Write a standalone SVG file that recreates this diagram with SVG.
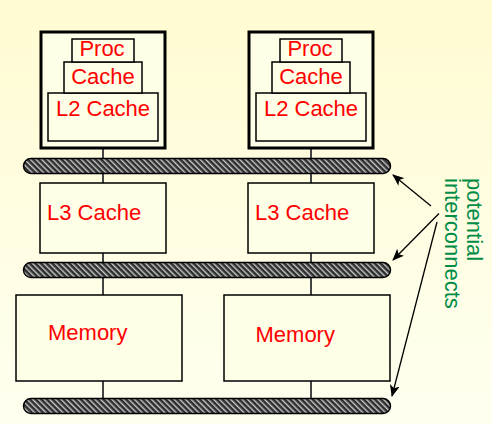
<svg xmlns="http://www.w3.org/2000/svg" width="492" height="424" viewBox="0 0 492 424">
  <defs>
    <linearGradient id="bg" x1="0" y1="0" x2="0" y2="1">
      <stop offset="0" stop-color="#fffbd2"/>
      <stop offset="1" stop-color="#fffff0"/>
    </linearGradient>
    <pattern id="hatch" patternUnits="userSpaceOnUse" width="4" height="4" patternTransform="rotate(-45)">
      <rect width="4" height="4" fill="#2e2e2e"/>
      <rect x="0" y="0" width="1.4" height="4" fill="#c8c8c8"/>
    </pattern>
    <marker id="ah" markerWidth="12" markerHeight="10" refX="11" refY="5" orient="auto" markerUnits="userSpaceOnUse">
      <path d="M0,0 L12,5 L0,10 L3,5 Z" fill="#000"/>
    </marker>
  </defs>
  <style>
    .box { fill: #fffee6; stroke: #000; stroke-width: 1.5; }
    .outer { fill: #fffee6; stroke: #000; stroke-width: 3; }
    .bus { fill: url(#hatch); stroke: #000; stroke-width: 1.5; }
    .lbl { font-family: "Liberation Sans", Arial, sans-serif; font-size: 22px; fill: #ff0000; }
    .c { text-anchor: middle; }
    .vline { stroke: #444; stroke-width: 2; }
    .arrow { stroke: #000; stroke-width: 1.3; fill: none; marker-end: url(#ah); }
    .note { font-family: "Liberation Sans", Arial, sans-serif; font-size: 22px; fill: #008c46; }
  </style>
  <rect width="492" height="424" fill="url(#bg)"/>

  <g id="connectors">
    <line class="vline" x1="103" y1="149" x2="103" y2="398"/>
    <line class="vline" x1="311" y1="149" x2="311" y2="398"/>
    <line class="arrow" x1="431" y1="206" x2="393" y2="175"/>
    <line class="arrow" x1="439" y1="213.5" x2="393" y2="260"/>
    <line class="arrow" x1="437" y1="222" x2="392" y2="396"/>
  </g>

  <g id="node-proc1">
    <rect class="outer" x="41" y="32" width="124" height="116"/>
    <rect class="box" x="48" y="93" width="110" height="48"/>
    <rect class="box" x="64" y="62" width="78" height="31"/>
    <rect class="box" x="72" y="39" width="62" height="23"/>
    <text class="lbl c" x="102" y="56">Proc</text>
    <text class="lbl c" x="103" y="84">Cache</text>
    <text class="lbl c" x="103" y="116">L2 Cache</text>
  </g>
  <g id="node-proc2">
    <rect class="outer" x="249" y="32" width="124" height="116"/>
    <rect class="box" x="256" y="93" width="110" height="48"/>
    <rect class="box" x="272" y="62" width="78" height="31"/>
    <rect class="box" x="280" y="39" width="62" height="23"/>
    <text class="lbl c" x="310" y="56">Proc</text>
    <text class="lbl c" x="311" y="84">Cache</text>
    <text class="lbl c" x="311" y="116">L2 Cache</text>
  </g>

  <g id="bus1"><rect class="bus" x="23.5" y="158.5" width="367" height="15" rx="7.5"/></g>

  <g id="node-l3-1">
    <rect class="box" x="40" y="183" width="126" height="70"/>
    <text class="lbl" x="47" y="220">L3 Cache</text>
  </g>
  <g id="node-l3-2">
    <rect class="box" x="248" y="183" width="126" height="70"/>
    <text class="lbl" x="255" y="220">L3 Cache</text>
  </g>

  <g id="bus2"><rect class="bus" x="23.5" y="262.5" width="367" height="15" rx="7.5"/></g>

  <g id="node-mem1">
    <rect class="box" x="16" y="295" width="166" height="86"/>
    <text class="lbl" x="48" y="340">Memory</text>
  </g>
  <g id="node-mem2">
    <rect class="box" x="224" y="295" width="166" height="86"/>
    <text class="lbl" x="255.5" y="342">Memory</text>
  </g>

  <g id="bus3"><rect class="bus" x="23.5" y="398.5" width="367" height="15" rx="7.5"/></g>

  <g id="note">
    <text class="note" transform="translate(467,178) rotate(90)">potential</text>
    <text class="note" transform="translate(445,178) rotate(90)">interconnects</text>
  </g>
</svg>
